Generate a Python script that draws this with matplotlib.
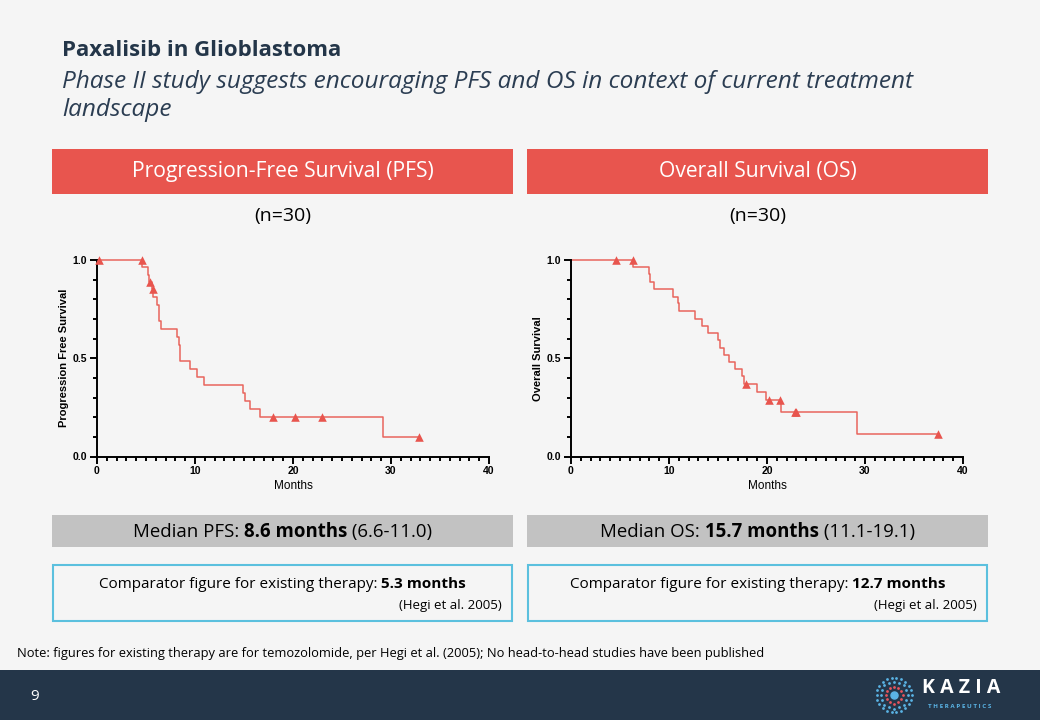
import numpy as np
import matplotlib.pyplot as plt
from matplotlib import font_manager
from matplotlib.patches import Rectangle
from matplotlib.ticker import MultipleLocator

# Kaplan-Meier steps
pfs_times = [0, 4.64, 5.19, 5.32, 5.59, 5.76, 6.10, 6.37, 6.51, 8.14, 8.34, 8.47,
             9.49, 10.17, 10.92, 14.92, 15.12, 15.59, 16.68, 29.15, 32.9]
pfs_surv = [1.0, 0.963, 0.925, 0.888, 0.85, 0.81, 0.77, 0.69, 0.647, 0.607, 0.566,
            0.485, 0.445, 0.405, 0.364, 0.324, 0.283, 0.243, 0.202, 0.101, 0.101]
pfs_censor = [0.2, 4.6, 5.42, 5.69, 17.97, 20.25, 22.95, 32.85]

os_times = [0, 6.33, 7.99, 8.10, 8.47, 10.41, 10.92, 11.02, 12.69, 13.37, 13.98,
            15.0, 15.17, 15.61, 16.09, 16.7, 17.45, 17.69, 18.98, 19.9, 21.46, 29.18, 37.4]
os_surv = [1.0, 0.963, 0.927, 0.888, 0.85, 0.813, 0.779, 0.74, 0.701, 0.665, 0.626,
           0.592, 0.554, 0.517, 0.48, 0.444, 0.408, 0.37, 0.328, 0.286, 0.226, 0.112, 0.112]
os_censor = [4.56, 6.29, 17.89, 20.24, 21.29, 22.82, 22.96, 37.41]

panel_titles = ["Progression-Free Survival (PFS)", "Overall Survival (OS)"]
y_labels = ["Progression Free Survival", "Overall Survival"]
medians = [[("Median PFS: ", "normal"), ("8.6 months", "bold"), (" (6.6-11.0)", "normal")],
           [("Median OS: ", "normal"), ("15.7 months", "bold"), (" (11.1-19.1)", "normal")]]
comparators = [[("Comparator figure for existing therapy: ", "normal"), ("5.3 months", "bold")],
               [("Comparator figure for existing therapy: ", "normal"), ("12.7 months", "bold")]]

NAVY = "#243649"
RED = "#e8554e"
LINE = "#e8655d"
GREY_BOX = "#c2c2c2"
BLUE = "#5bc0de"
BG = "#f5f5f5"
CHART = ["Liberation Sans", "DejaVu Sans"]


def pick_family(cands):
    # first family that ships a real bold face
    for fam in cands:
        weights = [f.weight for f in font_manager.fontManager.ttflist if f.name == fam]
        if any((w if isinstance(w, int) else 700 if "bold" in str(w) else 400) >= 600 for w in weights):
            return fam
    return "DejaVu Sans"


SANS = [pick_family(["Open Sans", "Noto Sans", "Lato", "Roboto"]), "DejaVu Sans"]
plt.rcParams["font.family"] = SANS

fig = plt.figure(figsize=(10.4, 7.2), dpi=100, facecolor=BG)
bg = fig.add_axes([0, 0, 1, 1])
bg.set_xlim(0, 1040)
bg.set_ylim(720, 0)
bg.axis("off")
bg.set_facecolor(BG)
renderer = fig.canvas.get_renderer()


def rich_text(x, y, parts, size, ha="center", color="black"):
    # y is the baseline, so bold and regular pieces line up
    texts = [bg.text(0, y, s, fontsize=size, fontweight=w, va="baseline", ha="left", color=color)
             for s, w in parts]
    widths = [t.get_window_extent(renderer).width for t in texts]
    start = x - sum(widths) / 2 if ha == "center" else x
    for t, w in zip(texts, widths):
        t.set_x(start)
        start += w


# title block
bg.text(62, 51, "Paxalisib in Glioblastoma", fontsize=16, fontweight="bold", color=NAVY, va="center")
bg.text(62, 96, "Phase II study suggests encouraging PFS and OS in context of current treatment\nlandscape",
        fontsize=17.6, style="italic", color="#2b3d52", va="center", linespacing=1.25)

panel_x = [52, 527]
panel_w = 461
for i, x0 in enumerate(panel_x):
    cx = x0 + panel_w / 2
    bg.add_patch(Rectangle((x0, 149), panel_w, 45, facecolor=RED, edgecolor="none"))
    bg.text(cx, 172, panel_titles[i], fontsize=15.2, color="white", ha="center", va="center")
    bg.text(cx, 216, "(n=30)", fontsize=14, color="black", ha="center", va="center")
    bg.add_patch(Rectangle((x0, 515), panel_w, 32, facecolor=GREY_BOX, edgecolor="none"))
    rich_text(cx, 537, medians[i], 13.4)
    bg.add_patch(Rectangle((x0 + 1, 565), panel_w - 2, 56, facecolor=BG, edgecolor=BLUE, lw=1.5))
    rich_text(cx, 588, comparators[i], 11)
    bg.text(x0 + panel_w - 11, 605, "(Hegi et al. 2005)", fontsize=9.5, ha="right", va="center")

bg.text(17, 653, "Note: figures for existing therapy are for temozolomide, per Hegi et al. (2005); "
        "No head-to-head studies have been published", fontsize=9.3, va="center")

# footer bar with page number and logo
bg.add_patch(Rectangle((0, 670), 1040, 50, facecolor=NAVY, edgecolor="none"))
bg.text(30, 696, "9", fontsize=11, color="white", va="center")
lx, ly = 894, 695
bg.scatter([lx], [ly], s=26, color="#5ab4e5", zorder=5)
for r, n, c in [(8.5, 12, "#e8555e"), (13.5, 16, "#5ab4e5"), (17.5, 22, "#5ab4e5")]:
    a = np.linspace(0, 2 * np.pi, n, endpoint=False)
    bg.scatter(lx + r * np.cos(a), ly + r * np.sin(a), s=4, color=c, zorder=5, linewidths=0)
bg.text(961, 688, "K A Z I A", fontsize=14, fontweight="bold", color="white", ha="center", va="center")
bg.text(960, 706, "T H E R A P E U T I C S", fontsize=4.5, fontweight="bold", color="#5ab4e5",
        ha="center", va="center")

# survival charts
series = [(pfs_times, pfs_surv, pfs_censor), (os_times, os_surv, os_censor)]
axes_left = [97, 571]
for i, (times, surv, cens) in enumerate(series):
    ax = fig.add_axes([axes_left[i] / 1040, 1 - 456.5 / 720, 392 / 1040, 196.5 / 720])
    ax.set_facecolor("none")
    ax.step(times, surv, where="post", color=LINE, lw=1.1, clip_on=False)
    idx = np.searchsorted(times, cens, side="right") - 1
    ax.scatter(cens, np.array(surv)[idx], marker="^", s=38, color=RED, zorder=4, clip_on=False,
               linewidths=0)
    ax.set_xlim(0, 40)
    ax.set_ylim(0, 1)
    ax.xaxis.set_major_locator(MultipleLocator(10))
    ax.xaxis.set_minor_locator(MultipleLocator(1))
    ax.yaxis.set_major_locator(MultipleLocator(0.5))
    ax.yaxis.set_minor_locator(MultipleLocator(0.1))
    ax.yaxis.set_major_formatter(plt.FuncFormatter(lambda v, p: f"{v:.1f}"))
    for s in ["top", "right"]:
        ax.spines[s].set_visible(False)
    for s in ["left", "bottom"]:
        ax.spines[s].set_linewidth(1.4)
    ax.tick_params(which="major", length=5, width=1.4, labelsize=7.5, pad=2)
    ax.tick_params(which="minor", length=3.2, width=1.4)
    for lab in ax.get_xticklabels() + ax.get_yticklabels():
        lab.set_fontweight("bold")
        lab.set_fontfamily(CHART)
    ax.set_xlabel("Months", fontsize=8.5, family=CHART, labelpad=3)
    ax.set_ylabel(y_labels[i], fontsize=8, fontweight="bold", family=CHART, labelpad=3)

fig.savefig("out.png", dpi=100, facecolor=BG)
